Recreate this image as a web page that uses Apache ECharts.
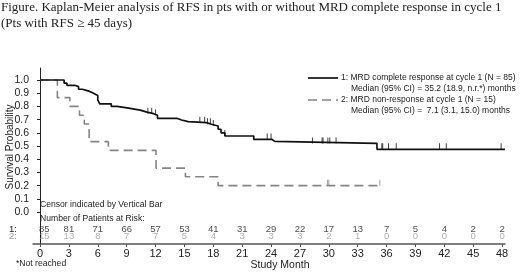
<!DOCTYPE html>
<html>
<head>
<meta charset="utf-8">
<script src="https://cdn.jsdelivr.net/npm/echarts@6/dist/echarts.min.js"></script>
<style>
  html, body { margin: 0; padding: 0; background: #fff; }
  #chart { width: 520px; height: 273px; }
</style>
</head>
<body>
<div id="chart"></div>
<script>
// group 1: MRD complete response at cycle 1 (step times / survival after step)
const crTimes = [0, 2.5, 2.8, 3.6, 4.0, 4.4, 5.0, 5.4, 5.7, 6.0, 6.2, 7.4, 8.0, 9.2, 10.4, 11.1, 11.8, 12.2, 14.2, 14.7, 15.4, 17.3, 17.8, 18.5, 18.8, 19.2, 22.2, 24.1, 24.4, 35.0, 48.3];
const crSurv = [1.0, 0.976, 0.96, 0.95, 0.93, 0.918, 0.906, 0.894, 0.882, 0.85, 0.82, 0.80, 0.787, 0.772, 0.757, 0.745, 0.733, 0.71, 0.697, 0.685, 0.677, 0.665, 0.652, 0.627, 0.60, 0.576, 0.55, 0.535, 0.52, 0.475, 0.475];
const crCensor = [11.2, 11.6, 12.0, 16.6, 17.1, 17.4, 17.7, 18.0, 19.2, 23.6, 24.0, 28.3, 29.3, 29.4, 29.9, 30.1, 30.75, 35.5, 35.6, 36.2, 37.0, 41.5, 42.2, 47.9];

// group 2: MRD non-response at cycle 1
const nrTimes = [0, 1.8, 3.1, 4.1, 4.6, 5.1, 7.1, 12.05, 15.1, 18.5, 35.3];
const nrSurv = [1.0, 0.867, 0.8, 0.733, 0.667, 0.533, 0.467, 0.333, 0.267, 0.2, 0.2];
const nrCensor = [29.85, 30.0, 35.3];

// number at risk table
const riskMonths = [0, 3, 6, 9, 12, 15, 18, 21, 24, 27, 30, 33, 36, 39, 42, 45, 48];
const riskCR = [85, 81, 71, 66, 57, 53, 41, 31, 29, 22, 17, 13, 7, 5, 4, 2, 2];
const riskNR = [15, 13, 8, 7, 7, 5, 4, 3, 3, 3, 2, 1, 0, 0, 0, 0, 0];
const yTicks = [0, 0.1, 0.2, 0.3, 0.4, 0.5, 0.6, 0.7, 0.8, 0.9, 1.0];

const FONT = 'Liberation Sans, Arial, sans-serif';
const ROW1_Y = -0.129, ROW2_Y = -0.182;

function survAt(ts, ss, t) {
    let s = ss[0];
    for (let i = 0; i < ts.length; i++) {
        if (ts[i] <= t) s = ss[i];
    }
    return s;
}
function pairs(ts, ss) {
    return ts.map((t, i) => [t, ss[i]]);
}
function censorPts(ts, ss, cs) {
    return cs.map(t => [t, survAt(ts, ss, t)]);
}
function riskPts(vals, y) {
    return riskMonths.map((m, i) => {
        const item = { value: [m, y], label: { formatter: String(vals[i]) } };
        if (i === 0) item.label = { formatter: String(vals[i]), align: 'left', offset: [-1, 0] };
        return item;
    });
}

const chart = echarts.init(document.getElementById('chart'));
const option = {
    animation: false,
    grid: { left: 33, right: 15, top: 68, bottom: 29, containLabel: false, outerBoundsMode: 'none' },
    xAxis: {
        type: 'value', min: -0.73, max: 48.3,
        splitLine: { show: false },
        axisLine: { onZero: false, lineStyle: { color: '#555', width: 1.5 } },
        axisTick: { length: 3, lineStyle: { color: '#555' }, customValues: riskMonths },
        axisLabel: { customValues: riskMonths, color: '#222', fontFamily: FONT, fontSize: 11, margin: 4 }
    },
    yAxis: {
        type: 'value', min: -0.242, max: 1.091,
        splitLine: { show: false },
        axisLine: { show: true, lineStyle: { color: '#222', width: 1 } },
        axisTick: { show: true, length: 3, lineStyle: { color: '#222' }, customValues: yTicks },
        axisLabel: {
            customValues: yTicks, color: '#222', fontFamily: FONT, fontSize: 10.5, margin: 4,
            formatter: v => v.toFixed(1)
        }
    },
    series: [
        {
            type: 'line', step: 'end', data: pairs(nrTimes, nrSurv), showSymbol: false,
            lineStyle: { color: '#858585', width: 1.6, type: [9, 5] }, z: 2
        },
        {
            type: 'line', step: 'end', data: pairs(crTimes, crSurv), showSymbol: false,
            lineStyle: { color: '#111', width: 1.7 }, z: 3
        },
        {
            type: 'scatter', data: censorPts(crTimes, crSurv, crCensor),
            symbol: 'rect', symbolSize: [1, 6], symbolOffset: [0, -3],
            itemStyle: { color: '#111' }, z: 4
        },
        {
            type: 'scatter', data: censorPts(nrTimes, nrSurv, nrCensor),
            symbol: 'rect', symbolSize: [1, 6], symbolOffset: [0, -3],
            itemStyle: { color: '#858585' }, z: 4
        },
        {
            type: 'scatter', data: riskPts(riskCR, ROW1_Y), symbolSize: 0,
            label: { show: true, position: 'inside', color: '#222', fontFamily: FONT, fontSize: 9.5 }
        },
        {
            type: 'scatter', data: riskPts(riskNR, ROW2_Y), symbolSize: 0,
            label: { show: true, position: 'inside', color: '#9a9a9a', fontFamily: FONT, fontSize: 9.5 }
        }
    ],
    graphic: [
        { type: 'text', left: 1, top: 1, style: { text: 'Figure. Kaplan-Meier analysis of RFS in pts with or without MRD complete response in cycle 1', font: '13px "Liberation Serif", "Times New Roman", serif', fill: '#222' } },
        { type: 'text', left: 1, top: 17, style: { text: '(Pts with RFS \u2265 45 days)', font: '13px "Liberation Serif", "Times New Roman", serif', fill: '#222' } },
        { type: 'line', shape: { x1: 308, y1: 78, x2: 338, y2: 78 }, style: { stroke: '#111', lineWidth: 1.7 } },
        { type: 'text', x: 341, y: 78, style: { text: '1: MRD complete response at cycle 1 (N = 85)', font: '8.5px ' + FONT, fill: '#222', verticalAlign: 'middle' } },
        { type: 'text', x: 351, y: 89, style: { text: 'Median (95% CI) = 35.2 (18.9, n.r.*) months', font: '8.5px ' + FONT, fill: '#222', verticalAlign: 'middle' } },
        { type: 'line', shape: { x1: 308, y1: 100, x2: 338, y2: 100 }, style: { stroke: '#858585', lineWidth: 1.6, lineDash: [9, 5] } },
        { type: 'text', x: 341, y: 100, style: { text: '2: MRD non-response at cycle 1 (N = 15)', font: '8.5px ' + FONT, fill: '#222', verticalAlign: 'middle' } },
        { type: 'text', x: 351, y: 111, style: { text: 'Median (95% CI) =  7.1 (3.1, 15.0) months', font: '8.5px ' + FONT, fill: '#222', verticalAlign: 'middle' } },
        { type: 'text', x: 10, y: 147, rotation: Math.PI / 2, style: { text: 'Survival Probability', font: '10px ' + FONT, fill: '#222', align: 'center', verticalAlign: 'middle' } },
        { type: 'text', x: 40, y: 205, style: { text: 'Censor indicated by Vertical Bar', font: '8.6px ' + FONT, fill: '#222', verticalAlign: 'middle' } },
        { type: 'text', x: 40, y: 219, style: { text: 'Number of Patients at Risk:', font: '8.6px ' + FONT, fill: '#222', verticalAlign: 'middle' } },
        { type: 'text', x: 9, y: 229, style: { text: '1:', font: '9.5px ' + FONT, fill: '#222', verticalAlign: 'middle' } },
        { type: 'text', x: 9, y: 236, style: { text: '2:', font: '9.5px ' + FONT, fill: '#9a9a9a', verticalAlign: 'middle' } },
        { type: 'text', x: 280, y: 265, style: { text: 'Study Month', font: '10.5px ' + FONT, fill: '#222', align: 'center', verticalAlign: 'middle' } },
        { type: 'text', x: 16, y: 264, style: { text: '*Not reached', font: '8.6px ' + FONT, fill: '#222', verticalAlign: 'middle' } }
    ]
};
chart.setOption(option);
</script>
</body>
</html>
